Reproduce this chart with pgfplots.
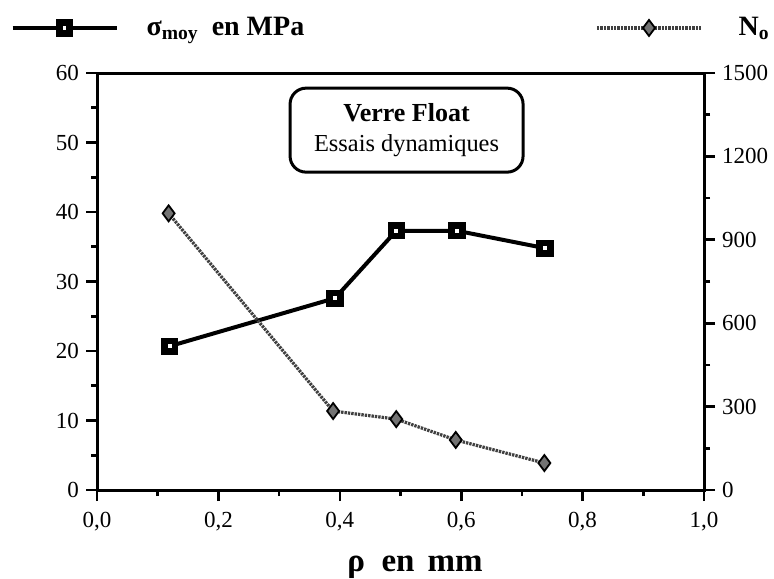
\documentclass[border=0pt]{standalone}
\usepackage{fontspec}
\setmainfont{Liberation Serif}
\usepackage{pgfplots}
\pgfplotsset{compat=1.18}
\begin{document}
\begin{tikzpicture}[x=1pt,y=1pt]
\useasboundingbox (0,0) rectangle (387,289);
\pgfplotsset{
  common/.style={
    scale only axis, width=303.5pt, height=208.5pt,
    at={(48.5pt,44pt)}, anchor=south west,
    xmin=0, xmax=1,
    tick align=outside,
    major tick length=5.5pt, minor tick length=3pt,
    every tick/.style={black, line width=1.3pt},
    axis line style={line width=1.5pt},
    tick label style={font=\fontsize{11.5}{13}\selectfont},
    /pgf/number format/assume math mode=true,
    /pgf/number format/1000 sep={},
    legend style={draw=none, fill=none, inner sep=0pt, anchor=west, font=\fontsize{14}{16}\selectfont\bfseries},
    legend cell align=left,
    legend image code/.code={\draw[mark repeat=2,mark phase=2,##1] plot coordinates {(0pt,0pt) (26pt,0pt) (52pt,0pt)};},
  }
}
\begin{axis}[common,
  xtick pos=lower, ytick pos=left,
  ymin=0, ymax=60, ytick={0,10,20,30,40,50,60}, minor y tick num=1,
  xtick={0,0.2,0.4,0.6,0.8,1}, minor x tick num=1,
  xticklabel style={yshift=-2pt, /pgf/number format/.cd, use comma, fixed, fixed zerofill, precision=1},
  xlabel={ρ\hspace{0.5em}en\hspace{0.4em}mm},
  xlabel style={at={(axis description cs:0.524,-0.1966)}, anchor=base, font=\fontsize{16.5}{18}\selectfont\bfseries},
  legend style={at={(-0.143,1.108)}},
]
\addplot[black, line width=2pt, mark=square*, mark size=2.6pt, mark options={fill=white, line width=3.4pt, solid}] coordinates {(0.12,20.7) (0.392,27.6) (0.493,37.3) (0.593,37.3) (0.738,34.8)};
\addlegendentry{\hspace{12pt}σ\textsubscript{moy}\hspace{3pt} en MPa}
\node[draw, line width=1.5pt, rounded corners=8pt, minimum width=116.5pt, minimum height=42pt, align=center] at (rel axis cs:0.51,0.863) {\fontsize{13}{16}\selectfont\bfseries Verre Float\\[3pt] \fontsize{12.2}{15}\selectfont Essais dynamiques};
\end{axis}
\begin{axis}[common,
  axis y line*=right, axis x line=none,
  ymin=0, ymax=1500, ytick={0,300,600,900,1200,1500}, minor y tick num=1,
  legend style={at={(0.8204,1.108)}},
]
\addplot[black!75, line width=1.6pt, dash pattern=on 1.2pt off 0.5pt, mark=diamond*, mark size=4pt, mark options={solid, fill=black!55, draw=black, line width=0.9pt}] coordinates {(0.118,995) (0.389,284) (0.493,255) (0.591,180) (0.737,97)};
\addlegendentry{\hspace{16pt}N\textsubscript{o}}
\end{axis}
\end{tikzpicture}
\end{document}
